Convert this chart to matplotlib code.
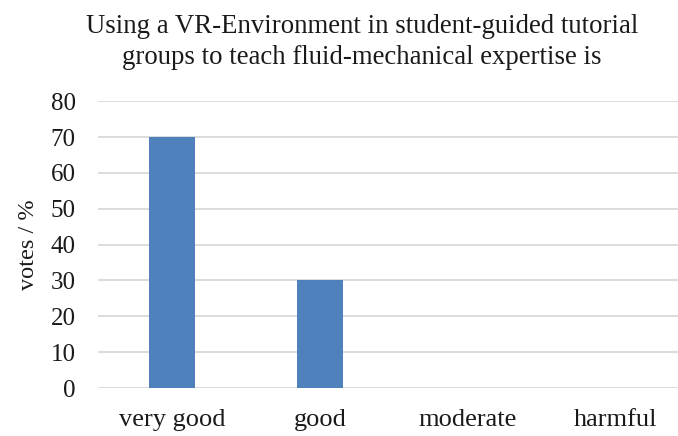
import matplotlib
matplotlib.use("Agg")
import matplotlib.pyplot as plt

categories = ["very good", "good", "moderate", "harmful"]
votes = [70, 30, 0, 0]
y_ticks = [0, 10, 20, 30, 40, 50, 60, 70, 80]

plt.rcParams['font.family'] = ['Liberation Serif', 'DejaVu Serif']

fig = plt.figure(figsize=(6.78, 4.36), dpi=100)
ax = fig.add_axes([0.1445, 0.110, 0.873, 0.658])

x = list(range(len(categories)))
ax.bar(x, votes, width=0.31, color='#4f81bd', zorder=3)

ax.set_xlim(-0.5, len(categories) - 0.5)
ax.set_ylim(0, 80)
ax.set_yticks(y_ticks)
ax.set_xticks(x)
ax.set_xticklabels(categories)
ax.tick_params(axis='both', length=0, colors='#1a1a1a')
ax.tick_params(axis='y', pad=16, labelsize=18)
ax.tick_params(axis='x', pad=15, labelsize=19)

ax.grid(axis='y', color='#d9d9d9', linewidth=1.3, zorder=0)
for s in ax.spines.values():
    s.set_visible(False)

ax.set_ylabel("votes / %", fontsize=17.5, color='#1a1a1a')
ax.yaxis.set_label_coords(-0.1, 0.5)

fig.text(0.534, 0.903, "Using a VR-Environment in student-guided tutorial\ngroups to teach fluid-mechanical expertise is",
         fontsize=19.3, ha='center', va='center', linespacing=1.3, color='#1a1a1a')

plt.savefig("out.png", dpi=100)
